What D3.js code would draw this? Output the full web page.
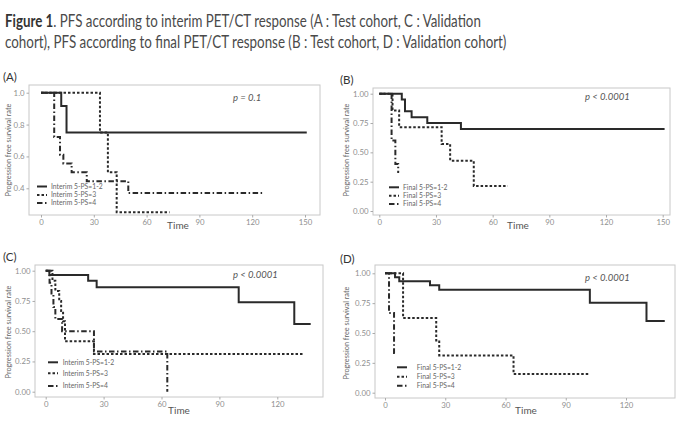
<!DOCTYPE html>
<html><head><meta charset="utf-8">
<script src="https://cdn.jsdelivr.net/npm/d3@7"></script>
<style>body{margin:0;background:#fff}svg{display:block}</style>
</head><body><svg id="c" width="685" height="421"></svg>
<script>
// ---------- data ----------
const titleLine1 = ["Figure 1", ". PFS according to interim PET/CT response (A : Test cohort, C : Validation"];
const titleLine2 = "cohort), PFS according to final PET/CT response (B : Test cohort, D : Validation cohort)";
const panelLabels = ["(A)", "(B)", "(C)", "(D)"];
const namesInterim = ["Interim 5-PS=1-2", "Interim 5-PS=3", "Interim 5-PS=4"];
const namesFinal = ["Final 5-PS=1-2", "Final 5-PS=3", "Final 5-PS=4"];
const pValues = ["p = 0.1", "p < 0.0001", "p < 0.0001", "p < 0.0001"];
const xTicksAB = [0, 30, 60, 90, 120, 150];
const xTicksCD = [0, 30, 60, 90, 120];
const yTicksA = [0.4, 0.6, 0.8, 1.0];
const yTicksBCD = [0, 0.25, 0.5, 0.75, 1];

// Panel A (interim, test cohort)
const aTime12 = [0, 11.5, 14.5, 151];
const aSurv12 = [1, 0.917, 0.75, 0.75];
const aTime3 = [0, 33.5, 38, 43, 73];
const aSurv3 = [1, 0.75, 0.5, 0.25, 0.25];
const aTime4 = [0, 7.5, 10.8, 12.7, 17.4, 26, 49.6, 126];
const aSurv4 = [1, 0.722, 0.611, 0.556, 0.5, 0.444, 0.37, 0.37];
// Panel B (final, test cohort)
const bTime12 = [0, 11.9, 13.6, 17.1, 25.4, 43.2, 151];
const bSurv12 = [1, 0.95, 0.85, 0.8, 0.75, 0.7, 0.7];
const bTime3 = [0, 7, 10.5, 33, 37.5, 50, 68];
const bSurv3 = [1, 0.857, 0.714, 0.571, 0.429, 0.214, 0.214];
const bTime4 = [0, 6.5, 8.5, 10, 10.5];
const bSurv4 = [1, 0.6, 0.4, 0.333, 0.333];
// Panel C (interim, validation cohort)
const cTime12 = [0, 1.9, 22, 26.4, 100, 128.8, 137.3];
const cSurv12 = [1, 0.965, 0.917, 0.863, 0.739, 0.56, 0.56];
const cTime3 = [0, 3.5, 5, 7, 8, 9, 10, 25, 133.5];
const cSurv3 = [1, 0.917, 0.833, 0.75, 0.667, 0.583, 0.417, 0.3125, 0.3125];
const cTime4 = [0, 2, 3, 4, 5, 8.5, 25, 63, 63];
const cSurv4 = [1, 0.9, 0.8, 0.7, 0.6, 0.5, 0.333, 0, 0];
// Panel D (final, validation cohort)
const dTime12 = [0, 5, 7.1, 22.4, 27, 102, 130.2, 139.3];
const dSurv12 = [1, 0.966, 0.933, 0.9, 0.862, 0.754, 0.6, 0.6];
const dTime3 = [0, 9, 25.5, 27, 64, 101.2];
const dSurv3 = [1, 0.625, 0.4375, 0.3125, 0.156, 0.156];
const dTime4 = [0, 2, 4.5, 6];
const dSurv4 = [1, 0.667, 0.333, 0.333];

// ---------- layout ----------
const styles = [
  {dash: null},
  {dash: "2.5,2"},
  {dash: "5.5,2.5,1.5,2.5"}
];
const zip = (t, s) => t.map((v, i) => ({t: v, s: s[i]}));

const panels = [
  {label: panelLabels[0], labelPos: [3, 81], box: [29, 85, 320, 215],
   xd: [0, 150], xr: [41, 305], yd: [0.4, 1], yr: [188.3, 92.7],
   xt: xTicksAB, yt: yTicksA, yfmt: d3.format(".1f"),
   series: [zip(aTime12, aSurv12), zip(aTime3, aSurv3), zip(aTime4, aSurv4)],
   names: namesInterim, legX: 37, legTx: 51, legY: [186.5, 195, 203],
   p: pValues[0], pPos: [233, 101], timePos: [178, 229], ytitleX: 8, ytitleY: 150},
  {label: panelLabels[1], labelPos: [340, 84], box: [373, 88, 670, 215],
   xd: [0, 150], xr: [379.3, 662.7], yd: [0, 1], yr: [211, 93.7],
   xt: xTicksAB, yt: yTicksBCD, yfmt: d3.format(".2f"),
   series: [zip(bTime12, bSurv12), zip(bTime3, bSurv3), zip(bTime4, bSurv4)],
   names: namesFinal, legX: 389, legTx: 403, legY: [187.3, 195.7, 204],
   p: pValues[1], pPos: [585, 100], timePos: [518, 229], ytitleX: 346, ytitleY: 150},
  {label: panelLabels[2], labelPos: [3, 261], box: [35, 265, 323, 397],
   xd: [0, 120], xr: [45.7, 277.3], yd: [0, 1], yr: [391.7, 270.7],
   xt: xTicksCD, yt: yTicksBCD, yfmt: d3.format(".2f"),
   series: [zip(cTime12, cSurv12), zip(cTime3, cSurv3), zip(cTime4, cSurv4)],
   names: namesInterim, legX: 48, legTx: 62.7, legY: [362.3, 373.3, 386],
   p: pValues[2], pPos: [233, 278], timePos: [179, 414], ytitleX: 8, ytitleY: 332},
  {label: panelLabels[3], labelPos: [340, 263], box: [375, 265, 675, 398],
   xd: [0, 120], xr: [385, 626], yd: [0, 1], yr: [392.7, 273.3],
   xt: xTicksCD, yt: yTicksBCD, yfmt: d3.format(".2f"),
   series: [zip(dTime12, dSurv12), zip(dTime3, dSurv3), zip(dTime4, dSurv4)],
   names: namesFinal, legX: 397, legTx: 416.7, legY: [367.3, 376.7, 385.7],
   p: pValues[3], pPos: [585, 281], timePos: [526, 414], ytitleX: 346, ytitleY: 333}
];

const svg = d3.select("#c");
svg.append("rect").attr("width", 685).attr("height", 421).attr("fill", "#fff");

// ---------- title ----------
const FONT = "Lato, 'Open Sans', sans-serif";
function fitText(sel, x, y, targetW) {
  const w = sel.node().getComputedTextLength();
  sel.attr("transform", `translate(${x},${y}) scale(${targetW / w},1)`);
}
const t1 = svg.append("text").attr("font-family", FONT).attr("font-size", 17).attr("fill", "#4a4a4a");
t1.append("tspan").attr("font-weight", "bold").attr("fill", "#333").text(titleLine1[0]);
t1.append("tspan").text(titleLine1[1]);
fitText(t1, 5, 27, 476);
const t2 = svg.append("text").attr("font-family", FONT).attr("font-size", 17).attr("fill", "#4a4a4a").text(titleLine2);
fitText(t2, 5, 47.5, 502);

// ---------- panels ----------
panels.forEach(p => {
  const g = svg.append("g");
  const x = d3.scaleLinear().domain(p.xd).range(p.xr);
  const y = d3.scaleLinear().domain(p.yd).range(p.yr);
  const [bx0, by0, bx1, by1] = p.box;

  g.append("text").attr("x", p.labelPos[0]).attr("y", p.labelPos[1])
    .attr("font-family", FONT).attr("font-size", 11.5).attr("fill", "#333").text(p.label);

  g.append("rect").attr("x", bx0).attr("y", by0).attr("width", bx1 - bx0).attr("height", by1 - by0)
    .attr("fill", "#fff").attr("stroke", "#c8c8c8").attr("stroke-width", 1);

  const xa = g.append("g").attr("transform", `translate(0,${by1})`)
    .call(d3.axisBottom(x).tickValues(p.xt).tickSize(2.5).tickPadding(2));
  xa.select(".domain").remove();
  xa.selectAll("line").attr("stroke", "#aaa");
  xa.selectAll("text").attr("font-family", FONT).attr("font-size", 7.8).attr("fill", "#8f8f8f");

  const ya = g.append("g").attr("transform", `translate(${bx0},0)`)
    .call(d3.axisLeft(y).tickValues(p.yt).tickFormat(p.yfmt).tickSize(2.5).tickPadding(2));
  ya.select(".domain").remove();
  ya.selectAll("line").attr("stroke", "#aaa");
  ya.selectAll("text").attr("font-family", FONT).attr("font-size", 7.8).attr("fill", "#8f8f8f");

  g.append("text").attr("x", p.timePos[0]).attr("y", p.timePos[1]).attr("text-anchor", "middle")
    .attr("font-family", FONT).attr("font-size", 10).attr("fill", "#555").text("Time");
  g.append("text").attr("transform", `translate(${p.ytitleX},${p.ytitleY}) rotate(-90)`)
    .attr("text-anchor", "middle").attr("dy", "0.35em")
    .attr("font-family", FONT).attr("font-size", 7.3).attr("fill", "#666")
    .text("Progression free survival rate");

  const line = d3.line().x(d => x(d.t)).y(d => y(d.s)).curve(d3.curveStepAfter);
  p.series.forEach((s, i) => {
    g.append("path").datum(s).attr("d", line).attr("fill", "none")
      .attr("stroke", "#2a2a2a").attr("stroke-width", 2)
      .attr("stroke-dasharray", styles[i].dash);
  });

  g.append("text").attr("x", p.pPos[0]).attr("y", p.pPos[1])
    .attr("font-family", FONT).attr("font-size", 9.5).attr("font-style", "italic")
    .attr("fill", "#555").text(p.p);

  p.names.forEach((n, i) => {
    g.append("line").attr("x1", p.legX).attr("x2", p.legX + 10)
      .attr("y1", p.legY[i]).attr("y2", p.legY[i])
      .attr("stroke", "#2a2a2a").attr("stroke-width", 2)
      .attr("stroke-dasharray", styles[i].dash);
    g.append("text").attr("x", p.legTx).attr("y", p.legY[i]).attr("dy", "0.35em")
      .attr("font-family", FONT).attr("font-size", 6.8).attr("fill", "#666").text(n);
  });
});
</script></body></html>
